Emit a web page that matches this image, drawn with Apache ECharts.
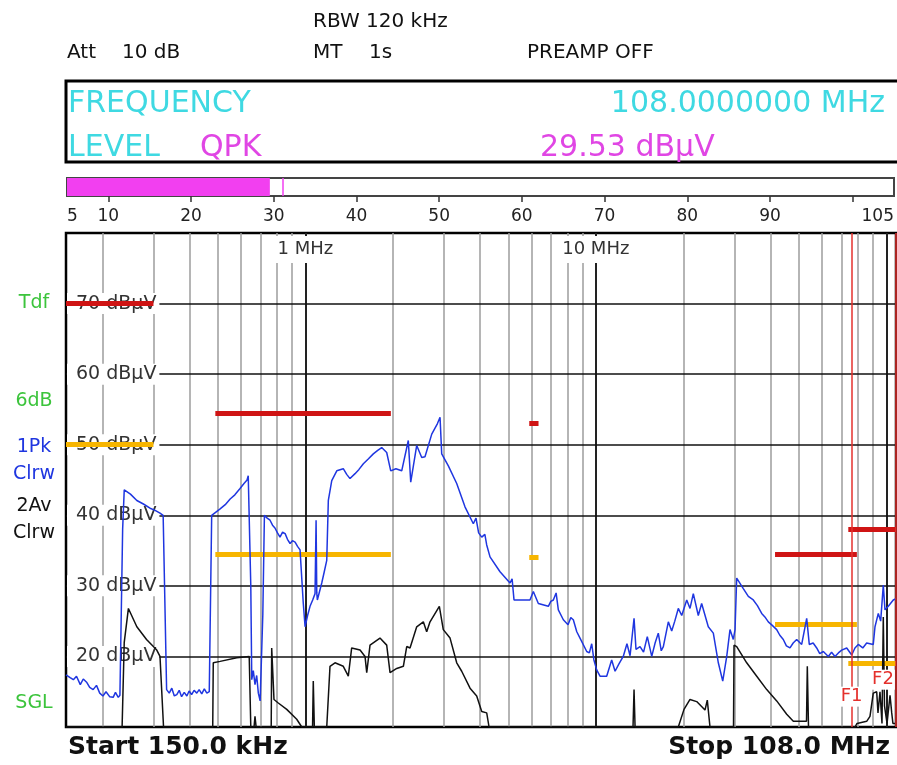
<!DOCTYPE html>
<html>
<head>
<meta charset="utf-8">
<title>EMI scan 150 kHz - 108 MHz</title>
<script src="https://cdn.jsdelivr.net/npm/echarts@6.0.0/dist/echarts.min.js"></script>
<style>
  html, body { margin: 0; padding: 0; background: #fff; }
  #chart { width: 897px; height: 765px; }
</style>
</head>
<body>
<div id="chart"></div>
<script>
// Scan range (MHz) and level range (dBuV)
const startFreq = 0.15;
const stopFreq = 108;
const levelMin = 10;
const levelMax = 80;

// Grid lines
const minorGridFreqs = [0.2, 0.3, 0.4, 0.5, 0.6, 0.7, 0.8, 0.9,
  2, 3, 4, 5, 6, 7, 8, 9, 20, 30, 40, 50, 60, 70, 80, 90];
const majorGridFreqs = [1, 10, 100];
const levelGridValues = [20, 30, 40, 50, 60, 70];
const freqLabelValues = [1, 10];
const freqLabelTexts = ['1 MHz', '10 MHz'];

// Trace 1: 1Pk Clrw (blue)
const pkFreq = [0.150, 0.155, 0.159, 0.163, 0.168, 0.172, 0.177, 0.181, 0.186, 0.191,
  0.196, 0.201, 0.206, 0.212, 0.218, 0.222, 0.227, 0.230, 0.235, 0.238,
  0.241, 0.250, 0.263, 0.277, 0.292, 0.304, 0.316, 0.324, 0.333, 0.340,
  0.347, 0.354, 0.361, 0.368, 0.375, 0.383, 0.391, 0.398, 0.406, 0.414,
  0.423, 0.431, 0.440, 0.449, 0.458, 0.467, 0.476, 0.509, 0.530, 0.551,
  0.572, 0.596, 0.615, 0.630, 0.636, 0.649, 0.654, 0.662, 0.671, 0.680,
  0.689, 0.699, 0.714, 0.723, 0.739, 0.756, 0.771, 0.786, 0.802, 0.818,
  0.835, 0.852, 0.868, 0.886, 0.903, 0.922, 0.940, 0.959, 0.984, 0.998,
  1.018, 1.038, 1.060, 1.080, 1.089, 1.095, 1.100, 1.139, 1.162, 1.185,
  1.200, 1.233, 1.283, 1.351, 1.388, 1.425, 1.483, 1.530, 1.584, 1.650,
  1.714, 1.775, 1.832, 1.906, 1.968, 2.050, 2.147, 2.262, 2.306, 2.418,
  2.516, 2.582, 2.724, 2.850, 2.909, 2.948, 3.107, 3.320, 3.545, 3.787,
  3.869, 3.950, 4.048, 4.150, 4.211, 4.323, 4.680, 5.066, 5.150, 5.229,
  5.628, 5.935, 6.094, 6.341, 6.864, 7.000, 7.141, 7.300, 7.430, 7.730,
  8.023, 8.200, 8.366, 8.600, 8.823, 9.305, 9.500, 9.681, 9.850, 10.07,
  10.34, 10.90, 11.34, 11.65, 12.00, 12.43, 12.80, 13.12, 13.54, 13.75,
  14.20, 14.60, 15.04, 15.58, 16.00, 16.41, 16.80, 17.08, 17.77, 18.25,
  18.70, 19.23, 19.76, 20.56, 21.10, 21.66, 22.53, 23.14, 24.39, 25.38,
  26.41, 27.35, 28.23, 28.97, 29.74, 30.15, 30.55, 32.19, 33.50, 34.84,
  36.00, 37.25, 38.20, 39.25, 40.50, 41.95, 43.00, 44.20, 45.30, 46.61,
  47.80, 49.15, 51.14, 53.21, 54.31, 56.00, 57.60, 59.00, 60.70, 63.15,
  64.80, 66.59, 68.40, 70.23, 73.07, 76.02, 78.00, 80.10, 83.00, 85.60,
  90.19, 91.43, 93.86, 95.65, 97.65, 98.97, 101.6, 105.7, 108];
const pkLevel = [17.4, 17.0, 16.7, 17.2, 16.0, 16.8, 16.3, 15.6, 15.3, 15.9,
  14.8, 14.4, 15.0, 14.3, 14.2, 14.9, 14.2, 14.5, 38.0, 43.6,
  43.8, 43.0, 42.1, 41.6, 41.0, 40.7, 40.3, 40.0, 15.3, 14.8,
  15.5, 14.4, 14.6, 15.2, 14.3, 14.9, 14.4, 15.1, 14.6, 15.2,
  14.8, 15.3, 14.7, 15.4, 14.8, 15.0, 40.0, 40.9, 41.5, 42.3,
  42.9, 43.8, 44.5, 45.0, 45.6, 30.0, 16.7, 18.0, 16.0, 17.3,
  14.8, 13.7, 26.0, 40.0, 39.6, 39.3, 38.6, 38.2, 37.5, 36.9,
  37.6, 37.4, 36.6, 36.0, 36.4, 36.2, 35.6, 35.1, 27.5, 24.2,
  25.8, 27.1, 28.0, 28.9, 39.3, 29.0, 28.0, 30.4, 32.0, 33.6,
  42.1, 44.9, 46.3, 46.6, 45.8, 45.2, 45.9, 46.5, 47.3, 48.0,
  48.7, 49.2, 49.6, 48.9, 46.3, 46.6, 46.3, 50.6, 44.7, 49.9,
  48.2, 48.3, 51.5, 53.0, 53.9, 48.7, 47.0, 44.5, 41.2, 38.8,
  39.6, 37.5, 36.9, 37.3, 35.8, 34.1, 32.0, 30.4, 31.0, 28.0,
  28.0, 28.0, 29.2, 27.5, 27.1, 27.8, 28.0, 29.0, 26.6, 25.2,
  24.5, 25.5, 25.2, 23.5, 22.6, 20.7, 20.5, 21.8, 19.5, 18.1,
  17.2, 17.2, 19.5, 17.9, 18.9, 20.0, 21.8, 20.1, 25.4, 21.0,
  21.4, 20.6, 22.8, 20.0, 21.9, 23.3, 20.8, 21.4, 24.9, 23.6,
  25.0, 26.8, 25.8, 28.0, 26.8, 28.9, 25.8, 27.5, 24.2, 23.3,
  19.1, 16.5, 20.0, 23.8, 22.4, 23.8, 31.1, 29.6, 28.5, 28.0,
  27.2, 26.1, 25.6, 24.9, 24.4, 23.8, 23.0, 22.4, 21.5, 21.2,
  21.9, 22.4, 21.7, 25.4, 21.7, 21.9, 21.2, 20.4, 20.7, 20.0,
  20.6, 20.0, 20.5, 20.9, 21.2, 20.2, 21.2, 21.7, 21.2, 21.9,
  21.7, 24.2, 26.1, 25.0, 30.1, 26.6, 27.1, 28.0, 28.2];

// Trace 2: 2Av Clrw (black)
const avFreq = [0.150, 0.234, 0.238, 0.246, 0.263, 0.284, 0.308, 0.316, 0.325, 0.480,
  0.482, 0.509, 0.581, 0.641, 0.649, 0.666, 0.671, 0.677, 0.763, 0.766,
  0.780, 0.807, 0.863, 0.934, 0.972, 1.059, 1.065, 1.074, 1.185, 1.216,
  1.265, 1.351, 1.406, 1.444, 1.543, 1.605, 1.627, 1.670, 1.807, 1.906,
  1.957, 2.064, 2.175, 2.234, 2.293, 2.418, 2.548, 2.617, 2.687, 2.893,
  2.985, 3.149, 3.320, 3.454, 3.690, 3.890, 4.048, 4.211, 4.290, 13.43,
  13.54, 13.65, 19.23, 20.12, 21.10, 22.25, 23.76, 24.20, 24.72, 29.79,
  29.91, 30.55, 33.07, 35.81, 38.76, 41.95, 45.41, 47.86, 51.81, 53.13,
  53.47, 53.98, 78.04, 79.30, 85.60, 87.87, 90.19, 92.68, 93.63, 95.13,
  96.65, 97.65, 98.58, 100.6, 103.0, 104.4, 105.4, 108];
const avLevel = [10, 10, 22.0, 26.8, 24.2, 22.4, 20.9, 20.0, 10, 10,
  19.1, 19.3, 19.8, 20.0, 10, 10, 11.5, 10, 10, 21.2,
  13.9, 13.4, 12.5, 11.1, 10, 10, 16.5, 10, 10, 18.6,
  19.1, 18.6, 17.2, 21.2, 20.9, 20.0, 17.7, 21.6, 22.6, 21.6,
  17.7, 18.3, 18.6, 21.4, 21.2, 24.2, 24.9, 23.5, 24.9, 27.1,
  23.8, 22.6, 19.1, 17.9, 15.5, 14.4, 12.2, 12.0, 10, 10,
  15.3, 10, 10, 12.5, 13.9, 13.6, 12.4, 13.8, 10, 10,
  21.6, 21.4, 19.1, 17.2, 15.3, 13.7, 11.8, 10.8, 10.8, 10.8,
  18.6, 10, 10, 10.5, 10.8, 11.5, 14.8, 15.0, 12.0, 15.0,
  10.5, 25.6, 13.0, 10.5, 14.5, 12.0, 10.5, 10.5];

// Limit lines: start / stop frequency (MHz) and level (dBuV)
const bandStart = [0.15, 0.49, 5.9, 41.4, 74];
const bandStop = [0.3, 1.97, 6.35, 79.2, 108];
const peakLimitLevel = [70, 54.5, 53, 34.5, 38];
const avgLimitLevel = [50, 34.5, 34, 24.5, 19];

// Frequency markers
const markerNames = ['F1', 'F2'];
const markerFreqs = [76, 108];
const markerLabelFreqs = [76, 97.4];
const markerLabelLevels = [14.3, 16.7];

// Level meter
const levelValue = 29.53;
const levelHold = 31.1;
const meterTicks = [10, 20, 30, 40, 50, 60, 70, 80, 90, 100];
const meterLabels = [5, 10, 20, 30, 40, 50, 60, 70, 80, 90, 105];

const FONT = 'DejaVu Sans';
const CYAN = '#3fd9e2';
const MAGENTA = '#e046e4';

function zip(xs, ys) {
    return xs.map((x, i) => [x, ys[i]]);
}

function limitSegments(levels) {
    return levels.map((lvl, i) => [
        { coord: [bandStart[i], lvl] },
        { coord: [bandStop[i], lvl] }
    ]);
}

function headerText(text, x, y, opts) {
    return {
        type: 'text',
        x: x,
        y: y,
        style: Object.assign({
            text: text,
            fontFamily: FONT,
            fontSize: 20,
            fill: '#111',
            verticalAlign: 'middle',
            align: 'left'
        }, opts || {})
    };
}

const chart = echarts.init(document.getElementById('chart'));

const option = {
    animation: false,
    backgroundColor: '#fff',
    textStyle: { fontFamily: FONT },
    grid: [
        { left: 66, right: 1, top: 233, bottom: 38, show: true,
          borderColor: '#000', borderWidth: 2.5, backgroundColor: '#fff' },
        { left: 67, right: 2, top: 178, height: 18, show: true,
          borderColor: '#444', borderWidth: 2, backgroundColor: '#fff' }
    ],
    xAxis: [
        {
            type: 'log', gridIndex: 0, logBase: 10, min: startFreq, max: stopFreq,
            axisLine: { show: false }, axisTick: { show: false },
            axisLabel: { show: false }, splitLine: { show: false }
        },
        {
            // carries only the "1 MHz" / "10 MHz" labels, in log10 space
            type: 'value', gridIndex: 0, position: 'top', z: 2,
            min: Math.log10(startFreq), max: Math.log10(stopFreq),
            axisLine: { show: false }, axisTick: { show: false }, splitLine: { show: false },
            axisLabel: {
                inside: true,
                margin: 3,
                customValues: freqLabelValues.map(Math.log10),
                formatter: v => {
                    const i = freqLabelValues.findIndex(f => Math.abs(Math.log10(f) - v) < 1e-6);
                    return i >= 0 ? freqLabelTexts[i] : '';
                },
                fontSize: 18,
                color: '#333',
                backgroundColor: '#fff',
                padding: [4, 6, 5, 6]
            }
        },
        {
            type: 'value', gridIndex: 1, min: 5, max: 105,
            axisLine: { show: false }, splitLine: { show: false },
            axisTick: { show: true, customValues: meterTicks, length: 6,
                        lineStyle: { color: '#333', width: 1.5 } },
            axisLabel: { customValues: meterLabels, fontSize: 17, color: '#222', margin: 12,
                         alignMinLabel: 'left', alignMaxLabel: 'right' }
        }
    ],
    yAxis: [
        {
            type: 'value', gridIndex: 0, min: levelMin, max: levelMax, interval: 10, z: 2,
            axisLine: { show: false }, axisTick: { show: false }, splitLine: { show: false },
            axisLabel: {
                inside: true,
                margin: 1,
                customValues: levelGridValues,
                formatter: '{value} dBμV',
                fontSize: 19,
                color: '#333',
                backgroundColor: '#fff',
                padding: [1, 3, 1, 9]
            }
        },
        { type: 'category', gridIndex: 1, data: ['level'], show: false }
    ],
    series: [
        {
            // grid lines
            type: 'line', xAxisIndex: 0, yAxisIndex: 0, data: [], z: 1, silent: true,
            markLine: {
                z: 1, silent: true, symbol: 'none', label: { show: false },
                data: [
                    ...minorGridFreqs.map(f => ({ xAxis: f, lineStyle: { color: '#9c9c9c', width: 1.5, type: 'solid' } })),
                    ...majorGridFreqs.map(f => ({ xAxis: f, lineStyle: { color: '#222', width: 2, type: 'solid' } })),
                    ...levelGridValues.map(v => ({ yAxis: v, lineStyle: { color: '#111', width: 1.6, type: 'solid' } }))
                ]
            }
        },
        {
            name: 'Peak limit',
            type: 'line', xAxisIndex: 0, yAxisIndex: 0, data: [], z: 3, silent: true,
            markLine: {
                z: 3, silent: true, symbol: 'none', label: { show: false },
                lineStyle: { color: '#cf1414', width: 5, type: 'solid', cap: 'butt' },
                data: limitSegments(peakLimitLevel)
            }
        },
        {
            name: 'Average limit',
            type: 'line', xAxisIndex: 0, yAxisIndex: 0, data: [], z: 3, silent: true,
            markLine: {
                z: 3, silent: true, symbol: 'none', label: { show: false },
                lineStyle: { color: '#f7b500', width: 5, type: 'solid', cap: 'butt' },
                data: limitSegments(avgLimitLevel)
            }
        },
        {
            name: '2Av Clrw',
            type: 'line', xAxisIndex: 0, yAxisIndex: 0, z: 4,
            data: zip(avFreq, avLevel),
            showSymbol: false,
            lineStyle: { color: '#111', width: 1.5 }
        },
        {
            name: '1Pk Clrw',
            type: 'line', xAxisIndex: 0, yAxisIndex: 0, z: 4,
            data: zip(pkFreq, pkLevel),
            showSymbol: false,
            lineStyle: { color: '#1f36e0', width: 1.5 }
        },
        {
            // frequency markers F1 / F2
            type: 'line', xAxisIndex: 0, yAxisIndex: 0, data: [], z: 5, silent: true,
            markLine: {
                z: 5, silent: true, symbol: 'none', label: { show: false },
                lineStyle: { color: '#e4302c', width: 1.5, type: 'solid' },
                data: markerFreqs.map(f => ({ xAxis: f }))
            },
            markPoint: {
                z: 6, silent: true, symbol: 'rect', symbolSize: 1,
                itemStyle: { color: 'rgba(0,0,0,0)' },
                label: { show: true, position: 'inside', formatter: '{b}', color: '#e4302c',
                         fontSize: 18, backgroundColor: '#fff', padding: [1, 1] },
                data: markerNames.map((n, i) => ({ name: n, coord: [markerLabelFreqs[i], markerLabelLevels[i]] }))
            }
        },
        {
            // level meter bar
            type: 'bar', xAxisIndex: 2, yAxisIndex: 1,
            data: [levelValue],
            barWidth: '100%',
            itemStyle: { color: '#f23ff0' },
            markLine: {
                silent: true, symbol: 'none', label: { show: false },
                lineStyle: { color: '#f23ff0', width: 1.5, type: 'solid' },
                data: [{ xAxis: levelHold }]
            }
        }
    ],
    graphic: [
        headerText('RBW 120 kHz', 313, 22),
        headerText('Att', 67, 53),
        headerText('10 dB', 122, 53),
        headerText('MT', 313, 53),
        headerText('1s', 369, 53),
        headerText('PREAMP OFF', 527, 53),
        {
            type: 'rect',
            shape: { x: 66, y: 81, width: 850, height: 81 },
            style: { fill: '#fff', stroke: '#000', lineWidth: 3 }
        },
        headerText('FREQUENCY', 68, 104, { fontSize: 30, fill: CYAN }),
        headerText('108.0000000 MHz', 885, 104, { fontSize: 30, fill: CYAN, align: 'right' }),
        headerText('LEVEL', 68, 148, { fontSize: 30, fill: CYAN }),
        headerText('QPK', 200, 148, { fontSize: 30, fill: MAGENTA }),
        headerText(levelValue.toFixed(2) + ' dBμV', 540, 148, { fontSize: 30, fill: MAGENTA }),
        // trace / status annotations on the left
        headerText('Tdf', 34, 303, { fontSize: 19, fill: '#3cc43c', align: 'center' }),
        headerText('6dB', 34, 401, { fontSize: 19, fill: '#3cc43c', align: 'center' }),
        headerText('1Pk', 34, 447, { fontSize: 19, fill: '#1f36e0', align: 'center' }),
        headerText('Clrw', 34, 474, { fontSize: 19, fill: '#1f36e0', align: 'center' }),
        headerText('2Av', 34, 506, { fontSize: 19, fill: '#111', align: 'center' }),
        headerText('Clrw', 34, 533, { fontSize: 19, fill: '#111', align: 'center' }),
        headerText('SGL', 34, 703, { fontSize: 19, fill: '#3cc43c', align: 'center' }),
        headerText('Start 150.0 kHz', 68, 747, { fontSize: 25, fontWeight: 'bold' }),
        headerText('Stop 108.0 MHz', 890, 747, { fontSize: 25, fontWeight: 'bold', align: 'right' })
    ]
};

chart.setOption(option);
</script>
</body>
</html>
